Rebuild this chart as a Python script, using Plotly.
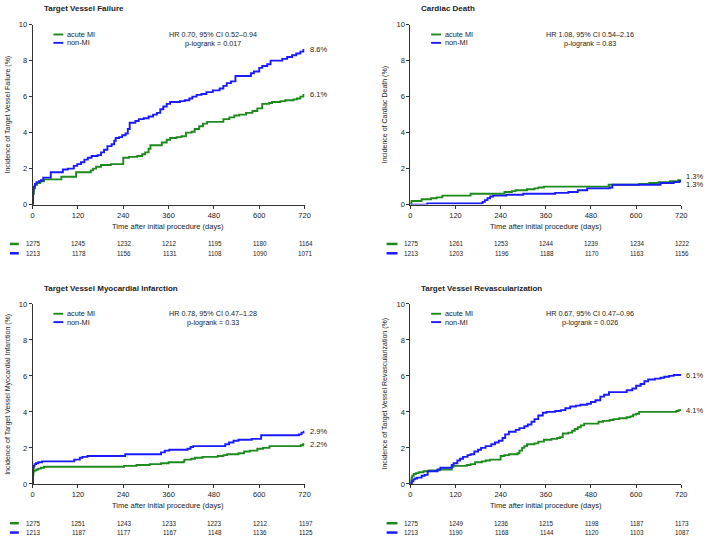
import plotly.graph_objects as go

W, H = 709, 541
FONT = "Liberation Sans, Arial, Helvetica, sans-serif"
GREEN = "#1e8a1e"
BLUE = "#1a1aff"
TXT = "#222222"

panel_titles = ["Target Vessel Failure", "Cardiac Death",
                "Target Vessel Myocardial Infarction", "Target Vessel Revascularization"]
y_titles = ["Incidence of Target Vessel Failure (%)", "Incidence of Cardiac Death (%)",
            "Incidence of Target Vessel Myocardial Infarction (%)",
            "Incidence of Target Vessel Revascularization (%)"]
hr_text = ["HR 0.70, 95% CI 0.52\u20130.94", "HR 1.08, 95% CI 0.54\u20132.16",
           "HR 0.78, 95% CI 0.47\u20131.28", "HR 0.67, 95% CI 0.47\u20130.96"]
p_text = ["p-logrank = 0.017", "p-logrank = 0.83", "p-logrank = 0.33", "p-logrank = 0.026"]
end_ami = ["6.1%", "1.3%", "2.2%", "4.1%"]
end_non = ["8.6%", "1.3%", "2.9%", "6.1%"]
series_names = ["acute MI", "non-MI"]
x_ticks = [0, 120, 240, 360, 480, 600, 720]
y_ticks = [0, 2, 4, 6, 8, 10]

risk_ami = [[1275, 1245, 1232, 1212, 1195, 1180, 1164],
            [1275, 1261, 1253, 1244, 1239, 1234, 1222],
            [1275, 1251, 1243, 1233, 1223, 1212, 1197],
            [1275, 1249, 1236, 1215, 1198, 1187, 1173]]
risk_non = [[1213, 1178, 1156, 1131, 1108, 1090, 1071],
            [1213, 1203, 1196, 1188, 1170, 1163, 1156],
            [1213, 1187, 1177, 1167, 1148, 1136, 1125],
            [1213, 1190, 1168, 1144, 1120, 1103, 1087]]

# (day, cumulative incidence %) step points
tvf_ami = [(0, 0), (1, 0.6), (3, 0.9), (6, 1.1), (12, 1.2), (20, 1.3), (30, 1.4), (76, 1.55),
           (115, 1.8), (154, 1.9), (160, 2.0), (168, 2.1), (181, 2.2), (207, 2.25), (240, 2.6),
           (255, 2.65), (277, 2.7), (290, 2.8), (298, 2.9), (307, 3.1), (312, 3.3), (342, 3.45),
           (355, 3.6), (364, 3.7), (381, 3.75), (394, 3.8), (406, 4.0), (421, 4.05), (429, 4.2),
           (441, 4.35), (451, 4.5), (462, 4.6), (505, 4.75), (521, 4.85), (534, 4.95), (547, 5.0),
           (565, 5.1), (582, 5.2), (595, 5.35), (608, 5.6), (626, 5.65), (634, 5.7), (656, 5.75),
           (669, 5.8), (691, 5.85), (700, 5.9), (709, 6.0), (717, 6.1), (720, 6.1)]
tvf_non = [(0, 0), (1, 0.6), (2, 0.9), (3, 1.0), (6, 1.15), (10, 1.25), (17, 1.3), (22, 1.35),
           (28, 1.5), (48, 1.8), (80, 1.95), (93, 2.0), (109, 2.15), (118, 2.25), (128, 2.35),
           (137, 2.5), (146, 2.6), (156, 2.7), (172, 2.75), (181, 2.9), (189, 3.05), (198, 3.25),
           (209, 3.35), (216, 3.55), (220, 3.7), (229, 3.75), (237, 3.85), (246, 3.95), (252, 4.2),
           (257, 4.55), (272, 4.65), (281, 4.75), (294, 4.8), (307, 4.9), (319, 5.0), (329, 5.1),
           (338, 5.3), (346, 5.45), (355, 5.6), (364, 5.7), (390, 5.75), (403, 5.8), (415, 5.9),
           (423, 6.0), (434, 6.1), (447, 6.15), (460, 6.25), (477, 6.35), (495, 6.45), (505, 6.6),
           (514, 6.75), (525, 6.85), (537, 7.15), (578, 7.3), (586, 7.4), (600, 7.6), (608, 7.7),
           (621, 7.8), (630, 8.0), (661, 8.1), (674, 8.2), (687, 8.3), (698, 8.4), (709, 8.5),
           (717, 8.6), (720, 8.6)]
cd_ami = [(0, 0), (1, 0.1), (3, 0.2), (30, 0.3), (55, 0.35), (70, 0.4), (85, 0.5), (160, 0.6),
          (250, 0.7), (270, 0.75), (280, 0.8), (310, 0.85), (330, 0.9), (340, 0.95), (355, 1.0),
          (527, 1.1), (608, 1.15), (635, 1.2), (660, 1.25), (690, 1.3), (712, 1.35), (720, 1.35)]
cd_non = [(0, 0), (45, 0.07), (192, 0.15), (198, 0.25), (205, 0.35), (212, 0.45), (220, 0.5),
          (255, 0.55), (300, 0.6), (385, 0.65), (420, 0.7), (445, 0.8), (470, 0.9), (530, 0.95),
          (537, 1.1), (665, 1.2), (700, 1.25), (715, 1.3), (720, 1.3)]
mi_ami = [(0, 0), (0.5, 0.5), (2, 0.7), (5, 0.75), (10, 0.8), (15, 0.85), (22, 0.9), (30, 0.95),
          (242, 1.0), (275, 1.05), (310, 1.1), (340, 1.15), (360, 1.2), (400, 1.25), (402, 1.35),
          (420, 1.4), (430, 1.45), (450, 1.5), (490, 1.55), (505, 1.6), (515, 1.65), (545, 1.7),
          (560, 1.8), (575, 1.85), (595, 1.95), (610, 2.0), (627, 2.1), (710, 2.15), (716, 2.2),
          (720, 2.2)]
mi_non = [(0, 0), (1, 0.9), (3, 1.0), (5, 1.1), (9, 1.15), (15, 1.2), (25, 1.25), (110, 1.35),
          (125, 1.45), (132, 1.5), (145, 1.55), (245, 1.65), (340, 1.75), (350, 1.85), (362, 1.9),
          (410, 1.95), (418, 2.05), (425, 2.1), (510, 2.2), (520, 2.3), (532, 2.4), (545, 2.45),
          (580, 2.5), (605, 2.7), (705, 2.75), (712, 2.85), (718, 2.9), (720, 2.9)]
tvr_ami = [(0, 0), (1, 0.2), (3, 0.35), (5, 0.45), (9, 0.55), (15, 0.6), (22, 0.65), (35, 0.7),
           (50, 0.75), (78, 0.8), (110, 0.95), (115, 1.0), (150, 1.05), (160, 1.1), (172, 1.2),
           (190, 1.25), (200, 1.3), (212, 1.35), (240, 1.55), (250, 1.6), (262, 1.65), (285, 1.7),
           (290, 1.85), (297, 2.0), (303, 2.1), (310, 2.2), (330, 2.25), (340, 2.35), (355, 2.45),
           (375, 2.5), (390, 2.55), (398, 2.6), (405, 2.8), (420, 2.85), (430, 2.95), (437, 3.05),
           (445, 3.15), (453, 3.25), (462, 3.35), (500, 3.45), (512, 3.5), (530, 3.55), (540, 3.6),
           (555, 3.65), (575, 3.7), (585, 3.75), (592, 3.85), (600, 3.9), (608, 4.0), (707, 4.05),
           (713, 4.1), (720, 4.1)]
tvr_non = [(0, 0), (1, 0.05), (4, 0.15), (8, 0.25), (12, 0.3), (18, 0.35), (30, 0.45), (38, 0.5),
           (46, 0.7), (72, 0.8), (80, 0.9), (110, 1.05), (115, 1.15), (125, 1.3), (132, 1.4),
           (140, 1.5), (152, 1.6), (160, 1.65), (170, 1.8), (180, 1.9), (188, 2.0), (200, 2.1),
           (215, 2.2), (225, 2.3), (235, 2.4), (245, 2.55), (252, 2.75), (262, 2.9), (280, 3.0),
           (290, 3.1), (303, 3.2), (312, 3.3), (322, 3.45), (330, 3.6), (340, 3.8), (352, 3.95),
           (362, 4.0), (385, 4.05), (400, 4.1), (412, 4.2), (425, 4.3), (440, 4.35), (452, 4.4),
           (470, 4.45), (480, 4.55), (492, 4.65), (505, 4.85), (515, 4.95), (528, 5.1), (575, 5.2),
           (590, 5.3), (600, 5.45), (612, 5.55), (622, 5.7), (632, 5.8), (650, 5.85), (665, 5.9),
           (675, 5.95), (688, 6.0), (700, 6.05), (720, 6.05)]

curves_ami = [tvf_ami, cd_ami, mi_ami, tvr_ami]
curves_non = [tvf_non, cd_non, mi_non, tvr_non]

# layout geometry (pixels)
x_dom_px = [(31, 306), (413, 687), (31, 306), (413, 687)]
y_dom_px = [(21, 204), (21, 204), (305, 488), (305, 488)]
off_x = [0, 382, 0, 382]
off_y = [0, 0, 284, 284]


def px(x):
    return x / W


def py(y):
    return 1 - y / H


fig = go.Figure()
annotations = []
shapes = []

for i in range(4):
    xa = "x" if i == 0 else f"x{i+1}"
    ya = "y" if i == 0 else f"y{i+1}"
    for data, col, name in [(curves_ami[i], GREEN, series_names[0]),
                            (curves_non[i], BLUE, series_names[1])]:
        fig.add_trace(go.Scatter(
            x=[d[0] for d in data], y=[d[1] for d in data], mode="lines",
            line=dict(color=col, width=1.9, shape="hv"), name=name,
            xaxis=xa, yaxis=ya, cliponaxis=False, showlegend=False,
            hoverinfo="skip"))

    x0, x1 = x_dom_px[i]
    y0, y1 = y_dom_px[i]
    axis_common = dict(showline=True, linecolor="#333333", linewidth=1, ticks="outside",
                       ticklen=3, tickwidth=1, tickcolor="#333333", showgrid=False,
                       zeroline=False, tickfont=dict(family=FONT, size=7.5, color=TXT),
                       fixedrange=True)
    fig.layout[f"xaxis{'' if i == 0 else i+1}"] = dict(
        domain=[px(x0), px(x1)], anchor=ya, range=[0, 720], tickvals=x_ticks, **axis_common)
    fig.layout[f"yaxis{'' if i == 0 else i+1}"] = dict(
        domain=[py(y1), py(y0)], anchor=xa, range=[0, 10], tickvals=y_ticks, **axis_common)

    ox, oy = off_x[i], off_y[i]
    # panel title
    annotations.append(dict(x=px(40 + ox), y=py(5 + oy), xref="paper", yref="paper",
                            text=f"<b>{panel_titles[i]}</b>", showarrow=False,
                            xanchor="left", yanchor="middle",
                            font=dict(family=FONT, size=8, color=TXT)))
    # y title
    annotations.append(dict(x=px((6 if i % 2 == 0 else 5) + ox), y=py((y0 + y1) / 2),
                            xref="paper", yref="paper", text=y_titles[i], textangle=-90,
                            showarrow=False, xanchor="center", yanchor="middle",
                            font=dict(family=FONT, size=7, color=TXT)))
    # x title
    annotations.append(dict(x=px(168 + ox), y=py(226 + oy), xref="paper", yref="paper",
                            text="Time after initial procedure (days)", showarrow=False,
                            xanchor="center", yanchor="middle",
                            font=dict(family=FONT, size=7.5, color=TXT)))
    # legend
    for k, (col, name) in enumerate([(GREEN, series_names[0]), (BLUE, series_names[1])]):
        yy = 31 + 8.5 * k + oy
        shapes.append(dict(type="line", xref="paper", yref="paper",
                           x0=px(52 + ox), x1=px(62 + ox), y0=py(yy), y1=py(yy),
                           line=dict(color=col, width=1.9)))
        annotations.append(dict(x=px(64 + ox), y=py(yy), xref="paper", yref="paper",
                                text=name, showarrow=False, xanchor="left", yanchor="middle",
                                font=dict(family=FONT, size=7.3, color=TXT)))
    # HR text
    annotations.append(dict(x=px(213 + ox), y=py(31 + oy), xref="paper", yref="paper",
                            text=hr_text[i], showarrow=False, xanchor="center",
                            yanchor="middle", font=dict(family=FONT, size=7.2, color=TXT)))
    annotations.append(dict(x=px(213 + ox), y=py(40 + oy), xref="paper", yref="paper",
                            text=p_text[i], showarrow=False, xanchor="center",
                            yanchor="middle", font=dict(family=FONT, size=7.2, color=TXT)))
    # end labels
    shift_a, shift_n = 0, 0
    if i == 1:
        shift_a, shift_n = 4, -3
    annotations.append(dict(x=720, y=curves_ami[i][-1][1], xref=xa, yref=ya,
                            text=end_ami[i], showarrow=False, xanchor="left",
                            yanchor="middle", xshift=3, yshift=shift_a,
                            font=dict(family=FONT, size=7.5, color=TXT)))
    annotations.append(dict(x=720, y=curves_non[i][-1][1], xref=xa, yref=ya,
                            text=end_non[i], showarrow=False, xanchor="left",
                            yanchor="middle", xshift=3, yshift=shift_n,
                            font=dict(family=FONT, size=7.5, color=TXT)))
    # risk table
    for k, (rows, col) in enumerate([(risk_ami[i], GREEN), (risk_non[i], BLUE)]):
        yy = 244 + 9.5 * k + oy
        shapes.append(dict(type="line", xref="paper", yref="paper",
                           x0=px(8 + ox - (0 if i % 2 == 0 else 1)),
                           x1=px(17 + ox + (0 if i % 2 == 0 else 1)),
                           y0=py(yy), y1=py(yy), line=dict(color=col, width=2.5)))
        for t, n in zip(x_ticks, rows):
            annotations.append(dict(x=t, y=py(yy), xref=xa, yref="paper", text=str(n),
                                    showarrow=False, xanchor="center", yanchor="middle",
                                    xshift=1, font=dict(family=FONT, size=6.3, color=TXT)))

fig.update_layout(width=W, height=H, margin=dict(l=0, r=0, t=0, b=0),
                  paper_bgcolor="white", plot_bgcolor="white", showlegend=False,
                  annotations=annotations, shapes=shapes)
fig.write_html("out.html", config={"displayModeBar": False},
               post_script="document.body.style.margin='0px';document.body.style.overflow='hidden';")
